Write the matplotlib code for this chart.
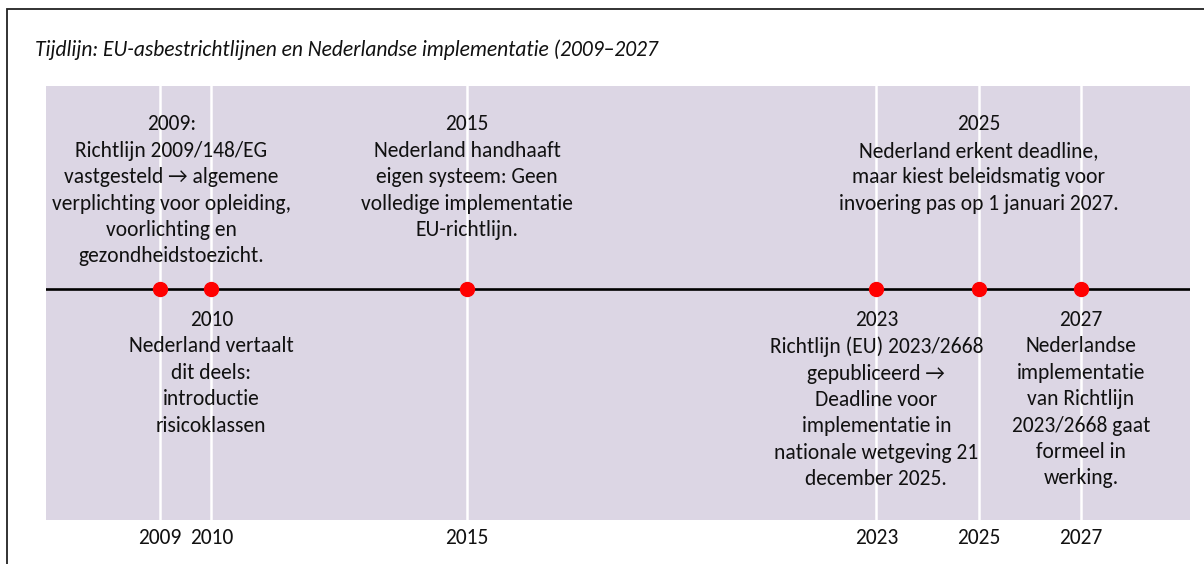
import matplotlib
matplotlib.use('Agg')
import matplotlib.pyplot as plt
from matplotlib import font_manager
from matplotlib.patches import Rectangle

# events on the timeline
years = [2009, 2010, 2015, 2023, 2025, 2027]
labels = [
    "2009:\nRichtlijn 2009/148/EG\nvastgesteld \u2192 algemene\nverplichting voor opleiding,\nvoorlichting en\ngezondheidstoezicht.",
    "2010\nNederland vertaalt\ndit deels:\nintroductie\nrisicoklassen",
    "2015\nNederland handhaaft\neigen systeem: Geen\nvolledige implementatie\nEU-richtlijn.",
    "2023\nRichtlijn (EU) 2023/2668\ngepubliceerd \u2192\nDeadline voor\nimplementatie in\nnationale wetgeving 21\ndecember 2025.",
    "2025\nNederland erkent deadline,\nmaar kiest beleidsmatig voor\ninvoering pas op 1 januari 2027.",
    "2027\nNederlandse\nimplementatie\nvan Richtlijn\n2023/2668 gaat\nformeel in\nwerking.",
]
sides = ['above', 'below', 'above', 'below', 'above', 'below']
title = "Tijdlijn: EU-asbestrichtlijnen en Nederlandse implementatie (2009\u20132027"

names = {f.name for f in font_manager.fontManager.ttflist}
if 'Carlito' in names:
    base, fs = 'Carlito', 15.5
else:
    base, fs = 'Liberation Sans', 13
plt.rcParams['font.family'] = [base, 'DejaVu Sans']

bg = '#DCD6E4'
fig = plt.figure(figsize=(12.04, 5.64), dpi=100)
ax = fig.add_axes([46/1204, 1 - 520/564, 1144/1204, 434/564])
ax.set_facecolor(bg)
ax.set_xlim(2006.77, 2029.13)
ax.set_ylim(-1, 0.88)

for y in years:
    ax.axvline(y, color='white', lw=1.8, zorder=1)
ax.axhline(0, color='black', lw=1.9, zorder=2)
ax.plot(years, [0]*len(years), 'o', color='#FF0000', ms=10, zorder=3)

txts = []
for y, lab, s in zip(years, labels, sides):
    ty = 0.757 if s == 'above' else -0.09
    t = ax.text(y, ty, lab, ha='center', va='top', fontsize=fs,
                linespacing=1.40, color='#111111', zorder=4)
    txts.append(t)

ax.set_xticks(years)
ax.set_xticklabels([str(y) for y in years], fontsize=fs, color='#111111')
ax.tick_params(axis='x', length=0, pad=6)
ax.set_yticks([])
for sp in ax.spines.values():
    sp.set_visible(False)

fig.text(35/1204, 1 - 50/564, title, ha='left', va='center', fontsize=fs,
         style='italic', color='#111111')

# outer chart border (only top and left edges are visible)
fig.patches.append(Rectangle((7/1204, -0.1), 1.2, 1 - 9/564 + 0.1,
                             transform=fig.transFigure, fill=False,
                             ec='#222222', lw=1.3))

# keep labels inside the plot area, like Excel does
fig.canvas.draw()
r = fig.canvas.get_renderer()
axbb = ax.get_window_extent(r)
for t in txts:
    bb = t.get_window_extent(r)
    shift = 0
    if bb.x0 < axbb.x0 + 6:
        shift = axbb.x0 + 6 - bb.x0
    elif bb.x1 > axbb.x1 - 6:
        shift = axbb.x1 - 6 - bb.x1
    if shift:
        x, y = t.get_position()
        xd = ax.transData.inverted().transform((ax.transData.transform((x, y))[0] + shift, 0))[0]
        t.set_x(xd)

fig.savefig('out.png', dpi=100)
